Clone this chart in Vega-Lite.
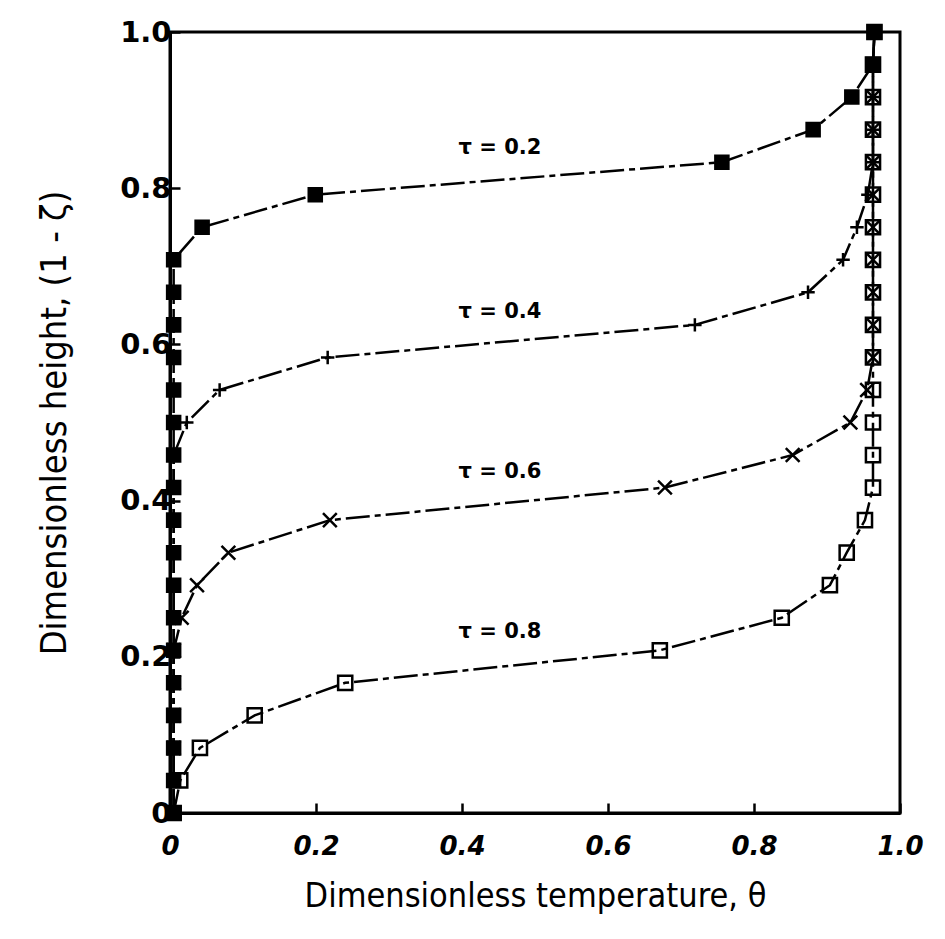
{
  "$schema": "https://vega.github.io/schema/vega-lite/v6.json",
  "width": 730,
  "height": 781,
  "autosize": {"type": "none"},
  "padding": {"left": 170, "top": 32, "right": 45, "bottom": 126},
  "background": "white",
  "config": {
    "view": {"stroke": "black", "strokeWidth": 3},
    "axis": {"domainColor": "black", "domainWidth": 3, "tickColor": "black", "tickWidth": 2.5, "grid": false, "labelColor": "black", "titleColor": "black"}
  },
  "datasets": {
    "curves": [
      {"tau": "0.2", "k": 0, "h": 0, "theta": 0.005},
      {"tau": "0.2", "k": 1, "h": 0.0417, "theta": 0.005},
      {"tau": "0.2", "k": 2, "h": 0.0833, "theta": 0.005},
      {"tau": "0.2", "k": 3, "h": 0.125, "theta": 0.005},
      {"tau": "0.2", "k": 4, "h": 0.1667, "theta": 0.005},
      {"tau": "0.2", "k": 5, "h": 0.2083, "theta": 0.005},
      {"tau": "0.2", "k": 6, "h": 0.25, "theta": 0.005},
      {"tau": "0.2", "k": 7, "h": 0.2917, "theta": 0.005},
      {"tau": "0.2", "k": 8, "h": 0.3333, "theta": 0.005},
      {"tau": "0.2", "k": 9, "h": 0.375, "theta": 0.005},
      {"tau": "0.2", "k": 10, "h": 0.4167, "theta": 0.005},
      {"tau": "0.2", "k": 11, "h": 0.4583, "theta": 0.005},
      {"tau": "0.2", "k": 12, "h": 0.5, "theta": 0.005},
      {"tau": "0.2", "k": 13, "h": 0.5417, "theta": 0.005},
      {"tau": "0.2", "k": 14, "h": 0.5833, "theta": 0.005},
      {"tau": "0.2", "k": 15, "h": 0.625, "theta": 0.005},
      {"tau": "0.2", "k": 16, "h": 0.6667, "theta": 0.005},
      {"tau": "0.2", "k": 17, "h": 0.7083, "theta": 0.005},
      {"tau": "0.2", "k": 18, "h": 0.75, "theta": 0.044},
      {"tau": "0.2", "k": 19, "h": 0.7917, "theta": 0.199},
      {"tau": "0.2", "k": 20, "h": 0.8333, "theta": 0.756},
      {"tau": "0.2", "k": 21, "h": 0.875, "theta": 0.881},
      {"tau": "0.2", "k": 22, "h": 0.9167, "theta": 0.934},
      {"tau": "0.2", "k": 23, "h": 0.9583, "theta": 0.963},
      {"tau": "0.2", "k": 24, "h": 1.0, "theta": 0.965},
      {"tau": "0.4", "k": 0, "h": 0, "theta": 0.005},
      {"tau": "0.4", "k": 1, "h": 0.0417, "theta": 0.005},
      {"tau": "0.4", "k": 2, "h": 0.0833, "theta": 0.005},
      {"tau": "0.4", "k": 3, "h": 0.125, "theta": 0.005},
      {"tau": "0.4", "k": 4, "h": 0.1667, "theta": 0.005},
      {"tau": "0.4", "k": 5, "h": 0.2083, "theta": 0.005},
      {"tau": "0.4", "k": 6, "h": 0.25, "theta": 0.005},
      {"tau": "0.4", "k": 7, "h": 0.2917, "theta": 0.005},
      {"tau": "0.4", "k": 8, "h": 0.3333, "theta": 0.005},
      {"tau": "0.4", "k": 9, "h": 0.375, "theta": 0.005},
      {"tau": "0.4", "k": 10, "h": 0.4167, "theta": 0.005},
      {"tau": "0.4", "k": 11, "h": 0.4583, "theta": 0.005},
      {"tau": "0.4", "k": 12, "h": 0.5, "theta": 0.023},
      {"tau": "0.4", "k": 13, "h": 0.5417, "theta": 0.068},
      {"tau": "0.4", "k": 14, "h": 0.5833, "theta": 0.216},
      {"tau": "0.4", "k": 15, "h": 0.625, "theta": 0.719},
      {"tau": "0.4", "k": 16, "h": 0.6667, "theta": 0.874},
      {"tau": "0.4", "k": 17, "h": 0.7083, "theta": 0.922},
      {"tau": "0.4", "k": 18, "h": 0.75, "theta": 0.941},
      {"tau": "0.4", "k": 19, "h": 0.7917, "theta": 0.956},
      {"tau": "0.4", "k": 20, "h": 0.8333, "theta": 0.963},
      {"tau": "0.4", "k": 21, "h": 0.875, "theta": 0.963},
      {"tau": "0.4", "k": 22, "h": 0.9167, "theta": 0.963},
      {"tau": "0.4", "k": 23, "h": 0.9583, "theta": 0.963},
      {"tau": "0.4", "k": 24, "h": 1.0, "theta": 0.965},
      {"tau": "0.6", "k": 0, "h": 0, "theta": 0.005},
      {"tau": "0.6", "k": 1, "h": 0.0417, "theta": 0.005},
      {"tau": "0.6", "k": 2, "h": 0.0833, "theta": 0.005},
      {"tau": "0.6", "k": 3, "h": 0.125, "theta": 0.005},
      {"tau": "0.6", "k": 4, "h": 0.1667, "theta": 0.005},
      {"tau": "0.6", "k": 5, "h": 0.2083, "theta": 0.005},
      {"tau": "0.6", "k": 6, "h": 0.25, "theta": 0.016},
      {"tau": "0.6", "k": 7, "h": 0.2917, "theta": 0.037},
      {"tau": "0.6", "k": 8, "h": 0.3333, "theta": 0.08},
      {"tau": "0.6", "k": 9, "h": 0.375, "theta": 0.219},
      {"tau": "0.6", "k": 10, "h": 0.4167, "theta": 0.678},
      {"tau": "0.6", "k": 11, "h": 0.4583, "theta": 0.853},
      {"tau": "0.6", "k": 12, "h": 0.5, "theta": 0.932},
      {"tau": "0.6", "k": 13, "h": 0.5417, "theta": 0.955},
      {"tau": "0.6", "k": 14, "h": 0.5833, "theta": 0.963},
      {"tau": "0.6", "k": 15, "h": 0.625, "theta": 0.963},
      {"tau": "0.6", "k": 16, "h": 0.6667, "theta": 0.963},
      {"tau": "0.6", "k": 17, "h": 0.7083, "theta": 0.963},
      {"tau": "0.6", "k": 18, "h": 0.75, "theta": 0.963},
      {"tau": "0.6", "k": 19, "h": 0.7917, "theta": 0.963},
      {"tau": "0.6", "k": 20, "h": 0.8333, "theta": 0.963},
      {"tau": "0.6", "k": 21, "h": 0.875, "theta": 0.963},
      {"tau": "0.6", "k": 22, "h": 0.9167, "theta": 0.963},
      {"tau": "0.6", "k": 23, "h": 0.9583, "theta": 0.963},
      {"tau": "0.6", "k": 24, "h": 1.0, "theta": 0.965},
      {"tau": "0.8", "k": 0, "h": 0, "theta": 0.005},
      {"tau": "0.8", "k": 1, "h": 0.0417, "theta": 0.014},
      {"tau": "0.8", "k": 2, "h": 0.0833, "theta": 0.041},
      {"tau": "0.8", "k": 3, "h": 0.125, "theta": 0.116},
      {"tau": "0.8", "k": 4, "h": 0.1667, "theta": 0.24},
      {"tau": "0.8", "k": 5, "h": 0.2083, "theta": 0.671},
      {"tau": "0.8", "k": 6, "h": 0.25, "theta": 0.838},
      {"tau": "0.8", "k": 7, "h": 0.2917, "theta": 0.904},
      {"tau": "0.8", "k": 8, "h": 0.3333, "theta": 0.927},
      {"tau": "0.8", "k": 9, "h": 0.375, "theta": 0.952},
      {"tau": "0.8", "k": 10, "h": 0.4167, "theta": 0.963},
      {"tau": "0.8", "k": 11, "h": 0.4583, "theta": 0.963},
      {"tau": "0.8", "k": 12, "h": 0.5, "theta": 0.963},
      {"tau": "0.8", "k": 13, "h": 0.5417, "theta": 0.963},
      {"tau": "0.8", "k": 14, "h": 0.5833, "theta": 0.963},
      {"tau": "0.8", "k": 15, "h": 0.625, "theta": 0.963},
      {"tau": "0.8", "k": 16, "h": 0.6667, "theta": 0.963},
      {"tau": "0.8", "k": 17, "h": 0.7083, "theta": 0.963},
      {"tau": "0.8", "k": 18, "h": 0.75, "theta": 0.963},
      {"tau": "0.8", "k": 19, "h": 0.7917, "theta": 0.963},
      {"tau": "0.8", "k": 20, "h": 0.8333, "theta": 0.963},
      {"tau": "0.8", "k": 21, "h": 0.875, "theta": 0.963},
      {"tau": "0.8", "k": 22, "h": 0.9167, "theta": 0.963},
      {"tau": "0.8", "k": 23, "h": 0.9583, "theta": 0.963},
      {"tau": "0.8", "k": 24, "h": 1.0, "theta": 0.965}
    ],
    "labels": [
      {"text": "τ = 0.2", "theta": 0.452, "h": 0.851},
      {"text": "τ = 0.4", "theta": 0.452, "h": 0.641},
      {"text": "τ = 0.6", "theta": 0.452, "h": 0.437},
      {"text": "τ = 0.8", "theta": 0.452, "h": 0.232}
    ]
  },
  "encoding": {
    "x": {
      "field": "theta", "type": "quantitative",
      "scale": {"domain": [0, 1], "nice": false, "zero": false},
      "axis": {
        "values": [0, 0.2, 0.4, 0.6, 0.8, 1.0],
        "labelExpr": "datum.value == 0 ? '0' : format(datum.value, '.1f')",
        "tickSize": -10, "labelPadding": 30, "labelFlush": false,
        "labelFont": "DejaVu Sans", "labelFontWeight": "bold", "labelFontStyle": "italic", "labelFontSize": 26,
        "title": "Dimensionless temperature, θ",
        "titleFont": "Liberation Sans Narrow, DejaVu Sans Condensed, Liberation Sans",
        "titleFontWeight": "normal", "titleFontSize": 34, "titlePadding": 20
      }
    },
    "y": {
      "field": "h", "type": "quantitative",
      "scale": {"domain": [0, 1], "nice": false, "zero": false},
      "axis": {
        "values": [0, 0.2, 0.4, 0.6, 0.8, 1.0],
        "labelExpr": "datum.value == 0 ? '0' : format(datum.value, '.1f')",
        "tickSize": -10, "labelPadding": 9, "labelFlush": false,
        "labelFont": "DejaVu Sans", "labelFontWeight": "bold", "labelFontSize": 29,
        "title": "Dimensionless height, (1 - ζ)",
        "titleFont": "Liberation Sans Narrow, DejaVu Sans Condensed, Liberation Sans",
        "titleFontWeight": "normal", "titleFontSize": 36, "titlePadding": 46
      }
    }
  },
  "layer": [
    {
      "data": {"name": "curves"},
      "mark": {"type": "line", "color": "black", "strokeWidth": 2.5, "strokeDash": [24, 5, 6, 5], "interpolate": "linear"},
      "encoding": {
        "detail": {"field": "tau", "type": "nominal"},
        "order": {"field": "k", "type": "quantitative"}
      }
    },
    {
      "data": {"name": "curves"},
      "mark": {"type": "point", "filled": true, "stroke": "black", "strokeWidth": 2.5, "opacity": 1},
      "encoding": {
        "shape": {"field": "tau", "type": "nominal", "legend": null,
          "scale": {"domain": ["0.2", "0.4", "0.6", "0.8"], "range": ["square", "M-1,0L1,0M0,-1L0,1", "M-1,-1L1,1M-1,1L1,-1", "square"]}},
        "fill": {"field": "tau", "type": "nominal", "legend": null,
          "scale": {"domain": ["0.2", "0.4", "0.6", "0.8"], "range": ["black", "transparent", "transparent", "transparent"]}},
        "size": {"field": "tau", "type": "nominal", "legend": null,
          "scale": {"domain": ["0.2", "0.4", "0.6", "0.8"], "range": [170, 200, 130, 170]}}
      }
    },
    {
      "data": {"name": "labels"},
      "mark": {"type": "text", "font": "DejaVu Sans", "fontWeight": "bold", "fontSize": 21, "color": "black", "align": "center", "baseline": "middle"},
      "encoding": {
        "text": {"field": "text", "type": "nominal"}
      }
    }
  ]
}
